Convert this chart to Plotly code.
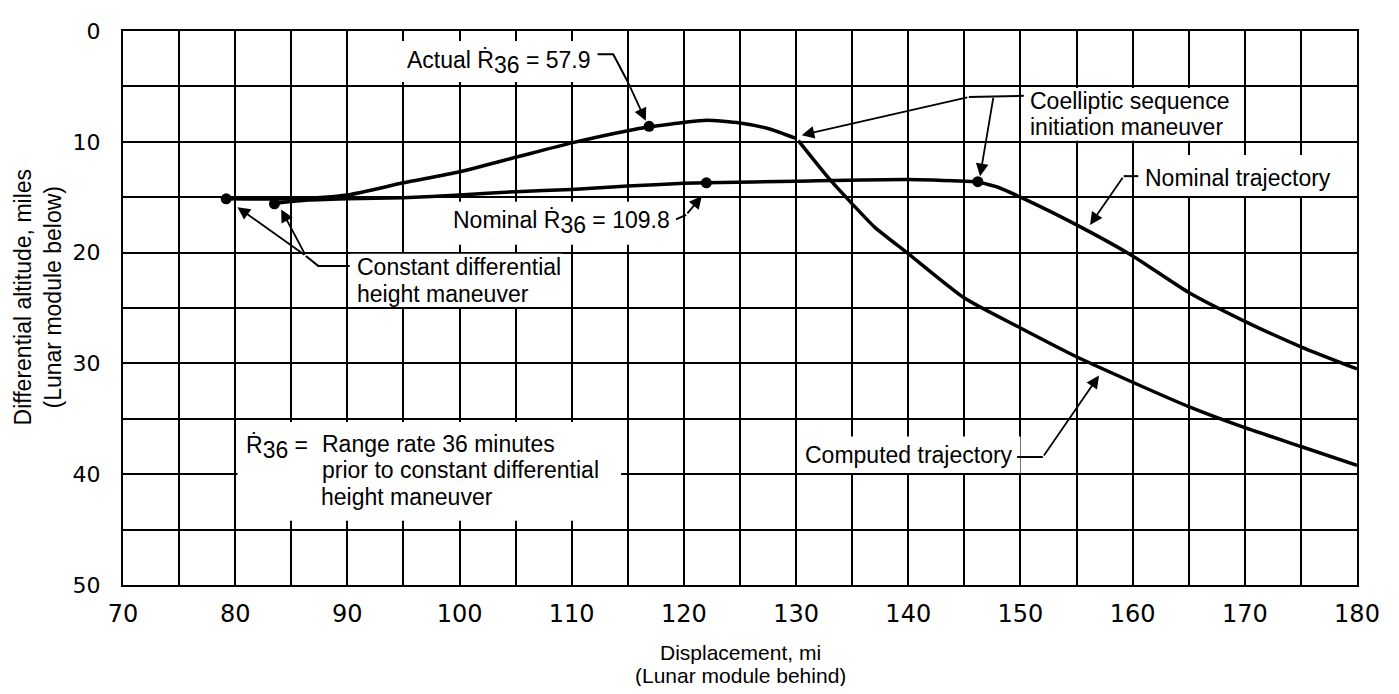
import plotly.graph_objects as go

# ---------------- data ----------------
actual_x = [79.2, 85, 90, 95, 100, 105, 110, 115, 117, 120, 122, 125, 127.5, 130]
actual_y = [15.15, 15.15, 14.8, 13.7, 12.7, 11.4, 10.1, 9.0, 8.65, 8.25, 8.05, 8.3, 8.8, 9.7]

computed_x = [130.2, 133, 135, 137, 140, 145, 150, 155, 160, 165, 170, 175, 180]
computed_y = [9.9, 13.4, 15.6, 17.7, 20.1, 24.1, 26.8, 29.4, 31.7, 33.9, 35.8, 37.5, 39.2]

nominal_coast_x = [83.5, 86, 90, 95, 100, 105, 110, 115, 120, 122, 130, 140, 146.2]
nominal_coast_y = [15.55, 15.3, 15.15, 15.05, 14.8, 14.5, 14.3, 14.0, 13.75, 13.7, 13.55, 13.4, 13.6]
nominal_after_x = [146.2, 148, 150, 155, 160, 165, 170, 175, 180]
nominal_after_y = [13.6, 14.1, 15.0, 17.5, 20.3, 23.6, 26.2, 28.5, 30.5]

point_x = [79.2, 83.5, 116.9, 122.0, 146.2]
point_y = [15.15, 15.6, 8.6, 13.7, 13.6]

x_ticks = [70, 80, 90, 100, 110, 120, 130, 140, 150, 160, 170, 180]
y_ticks = [0, 10, 20, 30, 40, 50]

TICKFONT = "DejaVu Sans, Verdana, sans-serif"
FONT = "Liberation Sans, Arial, sans-serif"
BLACK = "#000000"
RDOT = "\u1E58"
TS = 23  # text size

fig = go.Figure()

curve = dict(color=BLACK, width=3.5, shape="spline", smoothing=0.6)
for xs, ys in [(actual_x, actual_y), (computed_x, computed_y),
               (nominal_coast_x, nominal_coast_y), (nominal_after_x, nominal_after_y)]:
    fig.add_trace(go.Scatter(x=xs, y=ys, mode="lines", line=curve,
                             showlegend=False, hoverinfo="skip"))

fig.add_trace(go.Scatter(x=point_x, y=point_y, mode="markers",
                         marker=dict(color=BLACK, size=11),
                         showlegend=False, hoverinfo="skip"))

# ---------------- white boxes behind texts (hide grid) ----------------
boxes = [
    (92.5, 112.2, 0.9, 4.6),     # Actual R36
    (96.8, 119.1, 15.4, 19.3),   # Nominal R36
    (150.3, 169.6, 5.15, 9.9),   # Coelliptic
    (160.5, 178.0, 11.2, 14.9),  # Nominal trajectory
    (130.8, 150.0, 36.6, 39.9),  # Computed trajectory
    (90.3, 109.2, 20.1, 24.9),   # Constant differential
    (80.2, 114.4, 35.3, 44.2),   # R36 definition
]
for x0, x1, y0, y1 in boxes:
    fig.add_shape(type="rect", x0=x0, x1=x1, y0=y0, y1=y1, xref="x", yref="y",
                  fillcolor="white", line=dict(width=0), layer="between")

# ---------------- leader lines ----------------
leaders = [
    [(112.3, 2.1), (113.7, 2.1), (115.0, 4.6)],
    [(119.3, 17.0), (120.2, 16.6)],
    [(145.4, 5.95), (150.3, 5.85)],
    [(160.5, 13.1), (159.2, 13.1)],
    [(149.7, 38.45), (152.0, 38.45)],
    [(90.2, 21.2), (87.4, 21.2), (86.3, 20.3)],
]
for pts in leaders:
    path = "M " + " L ".join(f"{px},{py}" for px, py in pts)
    fig.add_shape(type="path", path=path, xref="x", yref="y",
                  line=dict(color=BLACK, width=2))

# ---------------- arrows (tail -> tip) ----------------
arrows = [
    ((115.0, 4.6), (116.6, 8.1)),
    ((120.2, 16.6), (121.6, 14.9)),
    ((145.4, 5.95), (130.5, 9.4)),
    ((147.6, 5.9), (146.4, 13.1)),
    ((159.2, 13.1), (156.2, 17.5)),
    ((152.0, 38.45), (157.0, 31.1)),
    ((86.3, 20.3), (80.2, 15.9)),
    ((86.3, 20.3), (84.1, 16.1)),
]
for (tx, ty), (hx, hy) in arrows:
    fig.add_annotation(x=hx, y=hy, ax=tx, ay=ty, xref="x", yref="y",
                       axref="x", ayref="y", text="", showarrow=True,
                       arrowhead=2, arrowsize=1.4, arrowwidth=1.8,
                       arrowcolor=BLACK, standoff=0, startstandoff=0)

# ---------------- texts (one annotation per line) ----------------
sub36 = '<sub><span style="font-size:%dpx">36</span></sub>' % TS
texts = [
    ("Actual " + RDOT + sub36 + " = 57.9", 111.9, 2.8, "right"),
    ("Nominal " + RDOT + sub36 + " = 109.8", 118.9, 17.3, "right"),
    ("Coelliptic sequence", 150.7, 6.3, "left"),
    ("initiation maneuver", 150.7, 8.7, "left"),
    ("Nominal trajectory", 160.9, 13.3, "left"),
    ("Computed trajectory", 149.5, 38.3, "right"),
    ("Constant differential", 90.7, 21.3, "left"),
    ("height maneuver", 90.7, 23.7, "left"),
    (RDOT + sub36 + " =", 80.8, 37.6, "left"),
    ("Range rate 36 minutes", 87.6, 37.3, "left"),
    ("prior to constant differential", 87.6, 39.6, "left"),
    ("height maneuver", 87.5, 42.1, "left"),
]
for t, tx, ty, anc in texts:
    fig.add_annotation(x=tx, y=ty, xref="x", yref="y", text=t, showarrow=False,
                       xanchor=anc, yanchor="middle", align="left",
                       font=dict(family=FONT, size=TS, color=BLACK))

# ---------------- axis titles ----------------
for t, sh in [("Displacement, mi", -67), ("(Lunar module behind)", -90)]:
    fig.add_annotation(x=0.5, y=0, xref="paper", yref="paper", xanchor="center",
                       yanchor="middle", yshift=sh, showarrow=False, text=t,
                       font=dict(family=FONT, size=21, color=BLACK))
for t, sh in [("Differential altitude, miles", -100), ("(Lunar module below)", -70)]:
    fig.add_annotation(x=0, y=0.519, xref="paper", yref="paper", xanchor="center",
                       yanchor="middle", xshift=sh, showarrow=False, text=t,
                       textangle=-90, font=dict(family=FONT, size=23, color=BLACK))

axis_common = dict(showgrid=True, gridcolor=BLACK, gridwidth=2,
                   showline=True, linecolor=BLACK, linewidth=2, mirror=True,
                   ticks="", zeroline=False,
                   minor=dict(dtick=5, showgrid=True, gridcolor=BLACK, gridwidth=2))

fig.update_xaxes(range=[70, 180], tickvals=x_ticks, ticklabelstandoff=6,
                 tickfont=dict(family=TICKFONT, size=24, color=BLACK), **axis_common)
fig.update_yaxes(range=[50, 0], tickvals=y_ticks, ticklabelstandoff=16,
                 tickfont=dict(family=TICKFONT, size=22, color=BLACK), **axis_common)

# page body has an 8px default margin; size the figure to fit the 1399x694 window
fig.update_layout(width=1383, height=678,
                  margin=dict(l=115, r=25, t=11, b=101),
                  paper_bgcolor="white", plot_bgcolor="white",
                  font=dict(family=FONT, color=BLACK))

fig.write_html("out.html")
